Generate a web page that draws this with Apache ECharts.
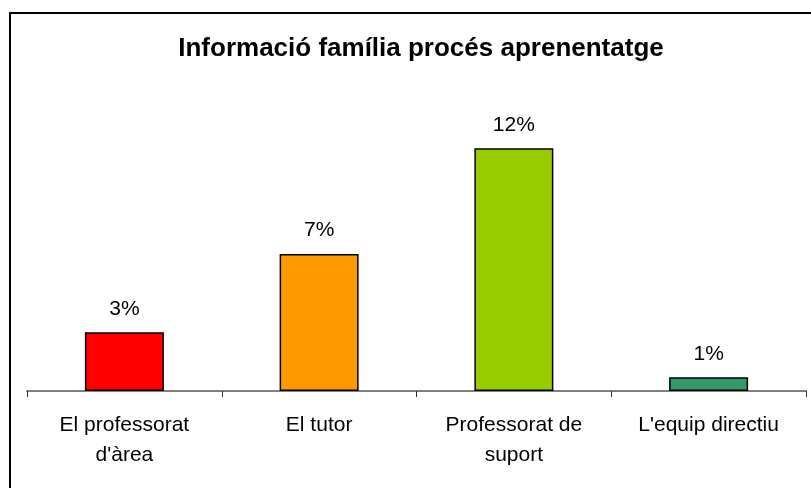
<!DOCTYPE html>
<html>
<head>
<meta charset="utf-8">
<script src="https://cdn.jsdelivr.net/npm/echarts@6/dist/echarts.min.js"></script>
<style>
  html, body { margin: 0; padding: 0; background: #fff; }
  #chart { width: 811px; height: 488px; }
</style>
</head>
<body>
<div id="chart"></div>
<script>
// dades llegides del gràfic
const categories = ["El professorat\nd'àrea", 'El tutor', 'Professorat de\nsuport', "L'equip directiu"];
const values = [3.0, 7.0, 12.4, 0.7];
const barColors = ['#FF0000', '#FF9900', '#99CC00', '#339966'];

const myChart = echarts.init(document.getElementById('chart'));

const option = {
  animation: false,
  title: {
    text: 'Informació família procés aprenentatge',
    left: 416,
    textAlign: 'center',
    top: 31,
    textStyle: {
      fontFamily: 'Liberation Sans, Arial, sans-serif',
      fontWeight: 'bold',
      fontSize: 26,
      color: '#000'
    }
  },
  graphic: [
    {
      type: 'rect',
      shape: { x: 10, y: 13, width: 830, height: 500 },
      style: { fill: 'none', stroke: '#000', lineWidth: 2 },
      silent: true
    }
  ],
  grid: { left: 27, right: 5, top: 117, bottom: 97 },
  xAxis: {
    type: 'category',
    data: categories,
    axisLine: { lineStyle: { color: '#808080', width: 2 } },
    axisTick: { show: true, length: 6, lineStyle: { color: '#333', width: 1 } },
    axisLabel: {
      interval: 0,
      margin: 19,
      fontFamily: 'Liberation Sans, Arial, sans-serif',
      fontSize: 21,
      lineHeight: 30,
      color: '#000'
    }
  },
  yAxis: {
    type: 'value',
    show: false,
    min: 0,
    max: 14
  },
  series: [
    {
      type: 'bar',
      barWidth: 79,
      data: values.map((v, i) => ({
        value: v,
        itemStyle: { color: barColors[i], borderColor: '#000', borderWidth: 1.5 }
      })),
      label: {
        show: true,
        position: 'top',
        distance: 13,
        formatter: p => Math.round(p.value) + '%',
        fontFamily: 'Liberation Sans, Arial, sans-serif',
        fontSize: 21,
        color: '#000'
      }
    }
  ]
};

myChart.setOption(option);
</script>
</body>
</html>
